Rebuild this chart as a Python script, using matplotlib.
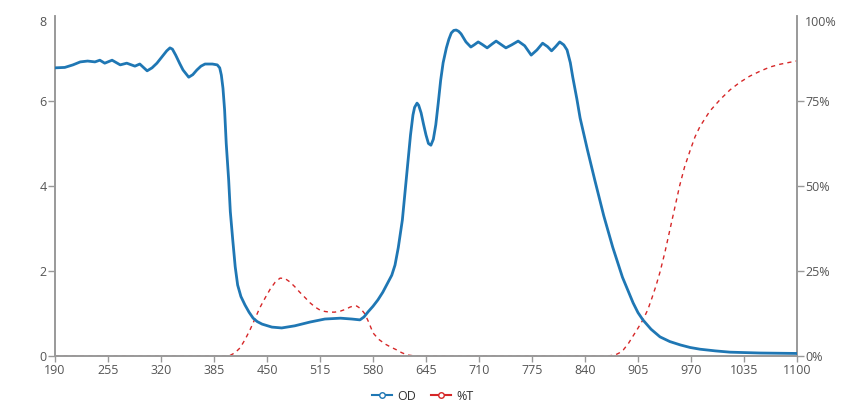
import numpy as np
import matplotlib
matplotlib.use('Agg')
import matplotlib.pyplot as plt
from matplotlib.lines import Line2D

plt.rcParams['font.family'] = ['Open Sans', 'DejaVu Sans']

# OD curve (wavelength nm, optical density)
od_wl = [190, 202, 212, 221, 230, 239, 245, 251, 260, 270, 278, 288, 294, 303, 309, 315, 322, 327, 331,
         334, 338, 343, 347, 354, 359, 364, 369, 374, 383, 389, 392, 394, 396, 398, 400, 403, 405, 408,
         411, 414, 418, 423, 428, 433, 438, 444, 456, 468, 484, 503, 521, 540, 554, 564, 569, 574, 580,
         586, 592, 598, 603, 607, 611, 616, 620, 623, 626, 629, 631, 634, 636, 639, 642, 645, 648, 651,
         654, 657, 660, 663, 666, 670, 673, 676, 679, 682, 685, 688, 694, 700, 704, 709, 714, 720, 726,
         731, 737, 743, 750, 758, 766, 774, 781, 788, 794, 799, 804, 809, 814, 818, 822, 825, 830, 834,
         843, 852, 863, 874, 886, 899, 905, 911, 921, 932, 944, 957, 969, 981, 1000, 1018, 1055, 1100]
od_val = [6.78, 6.79, 6.85, 6.92, 6.94, 6.92, 6.96, 6.89, 6.96, 6.85, 6.89, 6.82, 6.87, 6.71, 6.78, 6.89,
          7.06, 7.18, 7.25, 7.22, 7.08, 6.88, 6.73, 6.56, 6.62, 6.73, 6.82, 6.87, 6.87, 6.85, 6.78, 6.61,
          6.30, 5.79, 5.00, 4.14, 3.40, 2.73, 2.10, 1.67, 1.40, 1.20, 1.03, 0.89, 0.81, 0.75, 0.68, 0.66,
          0.71, 0.80, 0.87, 0.89, 0.87, 0.85, 0.92, 1.04, 1.17, 1.32, 1.50, 1.72, 1.90, 2.14, 2.55, 3.20,
          4.00, 4.61, 5.20, 5.67, 5.85, 5.95, 5.90, 5.72, 5.45, 5.20, 5.00, 4.96, 5.10, 5.44, 5.95, 6.49,
          6.90, 7.25, 7.45, 7.60, 7.66, 7.67, 7.64, 7.58, 7.39, 7.27, 7.32, 7.39, 7.33, 7.25, 7.34, 7.41,
          7.33, 7.25, 7.32, 7.41, 7.30, 7.08, 7.20, 7.36, 7.28, 7.18, 7.28, 7.39, 7.32, 7.20, 6.90, 6.56,
          6.05, 5.60, 4.85, 4.14, 3.30, 2.56, 1.85, 1.25, 1.02, 0.85, 0.63, 0.45, 0.34, 0.26, 0.20, 0.16,
          0.12, 0.09, 0.07, 0.06]

# transmission curve (wavelength nm, %T)
t_wl = [190, 300, 402, 405, 411, 417, 423, 429, 435, 441, 448, 454, 460, 466, 472, 478, 484, 490,
        497, 503, 509, 515, 521, 527, 533, 540, 546, 552, 556, 560, 565, 570, 575, 580, 587, 595,
        602, 609, 615, 622, 632, 750, 865, 871, 877, 882, 887, 893, 899, 905, 911, 917, 922, 927,
        932, 938, 944, 950, 956, 962, 969, 975, 981, 993, 1006, 1018, 1030, 1042, 1055, 1067, 1079, 1100]
t_val = [0, 0, 0, 0.2, 1.0, 2.4, 4.8, 7.6, 10.8, 14.1, 17.2, 19.7, 21.7, 22.9, 22.8, 21.8, 20.4,
         18.8, 17.1, 15.6, 14.4, 13.5, 13.1, 12.9, 12.9, 13.2, 13.7, 14.4, 14.7, 14.7, 13.9, 12.4, 9.8,
         6.8, 4.9, 3.5, 2.6, 1.8, 1.0, 0.3, 0, 0, 0, 0.1, 0.3, 0.9, 1.8, 3.6, 5.9, 8.2, 10.6, 13.6, 17.0,
         20.6, 24.7, 30.5, 37.0, 43.5, 50.0, 55.5, 60.5, 64.5, 67.5, 72.0, 75.5, 78.3, 80.5, 82.3, 83.8,
         85.0, 85.8, 86.8]

x_ticks = list(range(190, 1101, 65))

fig = plt.figure(figsize=(8.54, 4.07), dpi=100)
ax = fig.add_axes([55/854, 1-356/407, 742/854, 340/407])
ax2 = ax.twinx()

blue = '#1f77b4'
red = '#d62728'
axis_col = '#999999'
text_col = '#555555'

ax.plot(od_wl, od_val, color=blue, lw=2.0, zorder=3, solid_joinstyle='round')
ax2.plot(t_wl, t_val, color=red, lw=1, dashes=(3, 3))
ax.set_zorder(ax2.get_zorder() + 1)
ax.patch.set_visible(False)

ax.set_xlim(190, 1100)
ax.set_ylim(0, 8)
ax2.set_ylim(0, 100)
ax.set_xticks(x_ticks)
ax.set_yticks([0, 2, 4, 6, 8])
ax2.set_yticks([0, 25, 50, 75, 100])
ax2.set_yticklabels(['0%', '25%', '50%', '75%', '100%'])

for a in (ax, ax2):
    a.spines['top'].set_visible(False)
    for s in ('left', 'right', 'bottom'):
        a.spines[s].set_color(axis_col)
        a.spines[s].set_linewidth(1.2)
    a.tick_params(colors=axis_col, labelcolor=text_col, labelsize=9, length=5, width=1)
ax.tick_params(axis='x', length=4, pad=2)
ax.tick_params(axis='y', pad=1)
ax2.tick_params(axis='y', pad=1)

# top labels sit below the axis end, without a tick mark
fig.canvas.draw()
for a in (ax, ax2):
    a.yaxis.get_major_ticks()[-1].tick1line.set_visible(False)
    a.yaxis.get_major_ticks()[-1].tick2line.set_visible(False)
    a.get_yticklabels()[-1].set_va('top')

handles = [Line2D([], [], color=blue, lw=1.5, marker='o', markersize=4, markerfacecolor='white'),
           Line2D([], [], color=red, lw=1.5, marker='o', markersize=4, markerfacecolor='white')]
fig.legend(handles, ['OD', '%T'], loc='center', bbox_to_anchor=(0.495, 0.027), ncol=2,
           frameon=False, fontsize=9, handlelength=1.6, handletextpad=0.4, columnspacing=1.2,
           labelcolor='#333333')

fig.savefig('out.png', dpi=100)
